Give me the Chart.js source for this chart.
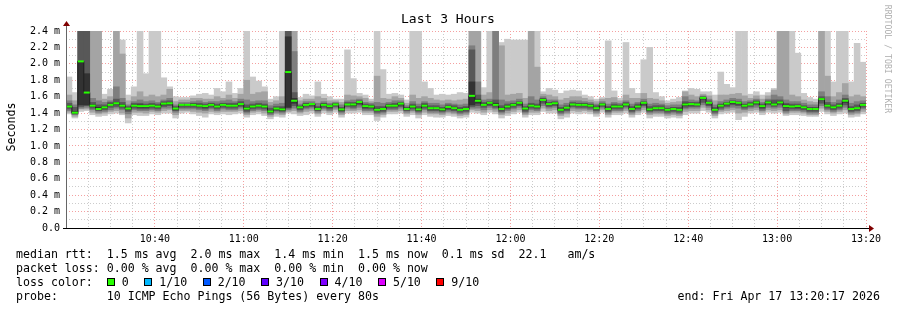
<!DOCTYPE html>
<html>
<head>
<meta charset="utf-8">
<title>Last 3 Hours</title>
<script src="https://cdn.jsdelivr.net/npm/chart.js@4.4.1/dist/chart.umd.min.js"></script>
<style>
  body { margin: 0; background: #fff; overflow: hidden; }
  #wrap { position: relative; width: 897px; height: 310px; font-family: "DejaVu Sans Mono", monospace; color: #000; }
  #wrap canvas { position: absolute; left: 0; top: 0; }
  .txt { position: absolute; white-space: pre; }
  #title { left: 0; width: 896px; top: 12px; line-height: 14px; font-size: 13px; text-align: center; }
  #ytitle { left: -39px; top: 120px; width: 100px; line-height: 14px; font-size: 11.6px; text-align: center; transform: rotate(-90deg); }
  #mark { left: 828px; top: 54px; width: 120px; line-height: 10px; font-size: 8.2px; text-align: center; color: #b0b0b0; transform: rotate(90deg); }
  #legend { left: 16px; top: 247px; line-height: 14px; font-size: 11.6px; }
  #end { right: 17px; top: 289px; line-height: 14px; font-size: 11.6px; }
  .sq { display: inline-block; width: 6px; height: 6px; border: 1px solid #000; margin-right: 7px; }
  .lbl { margin-right: 15.5px; }
</style>
</head>
<body>
<div id="wrap">
  <canvas id="chart" width="897" height="310"></canvas>
  <div class="txt" id="title">Last 3 Hours</div>
  <div class="txt" id="ytitle">Seconds</div>
  <div class="txt" id="mark">RRDTOOL / TOBI OETIKER</div>
  <div class="txt" id="legend"></div>
  <div class="txt" id="end">end: Fri Apr 17 13:20:17 2026</div>
</div>
<script>
// 10 pings every 80 s, window starts 10:20, 3 hours
const startHour = 10;
const startMinute = 20;
const stepSeconds = 80;
const windowMinutes = 180;

// median rtt per step (ms)
const median = [
  1.48, 1.405, 2.03, 1.65, 1.49, 1.45, 1.47, 1.50, 1.52, 1.49,
  1.455, 1.49, 1.485, 1.485, 1.49, 1.48, 1.515, 1.52, 1.455, 1.50,
  1.50, 1.50, 1.49, 1.485, 1.50, 1.48, 1.50, 1.49, 1.49, 1.51,
  1.455, 1.48, 1.49, 1.48, 1.42, 1.455, 1.445, 1.90, 1.55, 1.47,
  1.50, 1.51, 1.45, 1.50, 1.485, 1.505, 1.445, 1.505, 1.505, 1.535,
  1.485, 1.48, 1.44, 1.45, 1.49, 1.49, 1.515, 1.45, 1.48, 1.445,
  1.49, 1.46, 1.46, 1.445, 1.475, 1.46, 1.44, 1.45, 1.61, 1.55,
  1.50, 1.525, 1.50, 1.45, 1.48, 1.50, 1.525, 1.455, 1.49, 1.48,
  1.56, 1.51, 1.52, 1.44, 1.465, 1.505, 1.50, 1.50, 1.49, 1.46,
  1.505, 1.45, 1.48, 1.48, 1.505, 1.45, 1.48, 1.525, 1.445, 1.46,
  1.46, 1.44, 1.45, 1.44, 1.505, 1.51, 1.505, 1.585, 1.525, 1.44,
  1.49, 1.515, 1.535, 1.525, 1.49, 1.505, 1.53, 1.485, 1.53, 1.505,
  1.53, 1.485, 1.48, 1.485, 1.47, 1.45, 1.45, 1.57, 1.49, 1.47,
  1.49, 1.55, 1.45, 1.46, 1.50
];

// sorted pings per step, slowest first (values above 2.4 run off the top)
const ping10 = [
  1.84, 1.65, 2.6, 2.6, 2.6, 2.6, 1.63, 1.69, 2.6, 2.29,
  1.62, 1.72, 2.6, 1.88, 2.6, 2.6, 1.83, 1.72, 1.60, 1.59,
  1.59, 1.61, 1.63, 1.64, 1.62, 1.70, 1.66, 1.78, 1.64, 1.70,
  2.6, 1.84, 1.79, 1.72, 1.57, 1.60, 2.6, 2.6, 2.6, 1.59,
  1.63, 1.61, 1.78, 1.63, 1.60, 1.57, 1.57, 2.17, 1.82, 1.64,
  1.62, 1.57, 2.6, 1.93, 1.63, 1.64, 1.62, 1.56, 2.6, 2.6,
  1.78, 1.70, 1.62, 1.63, 1.62, 1.63, 1.65, 1.64, 2.6, 2.6,
  1.71, 2.6, 2.6, 2.26, 2.30, 2.29, 2.29, 2.29, 2.6, 2.6,
  1.66, 1.70, 1.68, 1.64, 1.67, 1.68, 1.67, 1.62, 1.60, 1.57,
  1.59, 2.28, 1.67, 1.58, 2.26, 1.70, 1.64, 2.05, 2.20, 1.65,
  1.60, 1.55, 1.57, 1.59, 1.67, 1.70, 1.69, 1.66, 1.66, 1.62,
  1.90, 1.75, 1.71, 2.6, 2.6, 1.63, 1.66, 1.62, 1.65, 1.70,
  2.6, 2.6, 2.6, 2.13, 1.64, 1.59, 1.57, 2.6, 2.42, 1.78,
  2.6, 2.6, 1.78, 2.25, 2.02
];
const ping9 = [
  1.62, 1.55, 2.6, 2.6, 2.6, 2.6, 1.57, 1.60, 2.6, 2.12,
  1.55, 1.60, 1.66, 1.60, 1.62, 1.60, 1.62, 1.69, 1.54, 1.56,
  1.56, 1.58, 1.58, 1.57, 1.57, 1.60, 1.58, 1.62, 1.58, 1.63,
  1.80, 1.63, 1.65, 1.66, 1.53, 1.55, 1.60, 2.6, 2.6, 1.55,
  1.57, 1.57, 1.60, 1.58, 1.55, 1.55, 1.53, 1.62, 1.61, 1.60,
  1.58, 1.54, 1.85, 1.58, 1.57, 1.60, 1.58, 1.52, 1.62, 1.58,
  1.60, 1.58, 1.56, 1.55, 1.56, 1.55, 1.56, 1.57, 2.6, 2.6,
  1.62, 1.65, 2.6, 2.22, 1.62, 1.63, 1.64, 1.58, 2.6, 1.96,
  1.63, 1.62, 1.60, 1.56, 1.58, 1.60, 1.60, 1.58, 1.56, 1.54,
  1.57, 1.58, 1.59, 1.55, 1.62, 1.58, 1.58, 1.64, 1.58, 1.57,
  1.55, 1.52, 1.53, 1.54, 1.66, 1.62, 1.60, 1.63, 1.61, 1.55,
  1.62, 1.62, 1.63, 1.64, 1.61, 1.58, 1.61, 1.57, 1.61, 1.68,
  2.6, 2.6, 1.62, 1.60, 1.56, 1.54, 1.53, 2.6, 1.85, 1.60,
  1.65, 1.76, 1.60, 1.62, 1.60
];
const ping8 = [
  1.55, 1.50, 2.6, 2.6, 1.58, 1.55, 1.53, 1.55, 1.72, 1.58,
  1.50, 1.54, 1.56, 1.54, 1.55, 1.53, 1.56, 1.58, 1.50, 1.53,
  1.53, 1.54, 1.55, 1.53, 1.54, 1.54, 1.55, 1.56, 1.54, 1.57,
  1.56, 1.54, 1.55, 1.55, 1.49, 1.51, 1.52, 2.6, 2.15, 1.51,
  1.54, 1.54, 1.52, 1.54, 1.52, 1.53, 1.50, 1.55, 1.56, 1.57,
  1.53, 1.52, 1.53, 1.52, 1.53, 1.55, 1.55, 1.49, 1.54, 1.51,
  1.54, 1.52, 1.52, 1.50, 1.52, 1.51, 1.50, 1.51, 2.22, 1.78,
  1.56, 1.57, 2.6, 1.56, 1.54, 1.55, 1.57, 1.51, 1.60, 1.56,
  1.60, 1.56, 1.56, 1.50, 1.52, 1.55, 1.55, 1.54, 1.53, 1.51,
  1.54, 1.51, 1.53, 1.52, 1.55, 1.51, 1.53, 1.57, 1.51, 1.52,
  1.51, 1.49, 1.50, 1.50, 1.60, 1.56, 1.55, 1.61, 1.57, 1.50,
  1.54, 1.56, 1.58, 1.57, 1.54, 1.55, 1.57, 1.53, 1.57, 1.62,
  1.60, 1.56, 1.54, 1.54, 1.52, 1.50, 1.50, 1.66, 1.60, 1.53,
  1.56, 1.62, 1.52, 1.54, 1.55
];
const ping7 = [
  1.52, 1.47, 2.6, 2.6, 1.53, 1.50, 1.50, 1.53, 1.57, 1.53,
  1.48, 1.52, 1.52, 1.51, 1.52, 1.51, 1.54, 1.55, 1.48, 1.51,
  1.51, 1.52, 1.52, 1.51, 1.52, 1.51, 1.52, 1.52, 1.52, 1.54,
  1.50, 1.51, 1.52, 1.51, 1.46, 1.48, 1.48, 2.6, 1.65, 1.49,
  1.52, 1.52, 1.48, 1.52, 1.50, 1.52, 1.47, 1.53, 1.53, 1.55,
  1.51, 1.50, 1.48, 1.48, 1.51, 1.52, 1.53, 1.47, 1.51, 1.48,
  1.52, 1.49, 1.49, 1.47, 1.50, 1.49, 1.47, 1.48, 2.17, 1.62,
  1.53, 1.54, 1.56, 1.49, 1.51, 1.52, 1.54, 1.48, 1.52, 1.51,
  1.58, 1.53, 1.54, 1.47, 1.49, 1.53, 1.52, 1.52, 1.51, 1.49,
  1.52, 1.48, 1.51, 1.50, 1.53, 1.48, 1.51, 1.54, 1.48, 1.49,
  1.49, 1.46, 1.47, 1.47, 1.54, 1.53, 1.53, 1.60, 1.55, 1.47,
  1.51, 1.53, 1.55, 1.54, 1.51, 1.53, 1.55, 1.51, 1.55, 1.56,
  1.56, 1.52, 1.51, 1.51, 1.49, 1.47, 1.47, 1.60, 1.53, 1.50,
  1.52, 1.58, 1.48, 1.50, 1.52
];
const ping6 = [
  1.49, 1.42, 2.03, 1.88, 1.50, 1.47, 1.48, 1.51, 1.53, 1.50,
  1.46, 1.50, 1.50, 1.49, 1.50, 1.49, 1.52, 1.53, 1.46, 1.50,
  1.50, 1.51, 1.50, 1.49, 1.51, 1.49, 1.51, 1.50, 1.50, 1.52,
  1.47, 1.49, 1.50, 1.49, 1.43, 1.46, 1.46, 2.33, 1.58, 1.48,
  1.51, 1.51, 1.46, 1.51, 1.49, 1.51, 1.45, 1.51, 1.51, 1.54,
  1.49, 1.49, 1.45, 1.46, 1.50, 1.50, 1.52, 1.46, 1.49, 1.45,
  1.50, 1.47, 1.47, 1.45, 1.48, 1.47, 1.45, 1.46, 1.78, 1.57,
  1.51, 1.53, 1.52, 1.46, 1.49, 1.51, 1.53, 1.46, 1.50, 1.49,
  1.57, 1.52, 1.53, 1.45, 1.47, 1.51, 1.51, 1.51, 1.50, 1.47,
  1.51, 1.46, 1.49, 1.49, 1.51, 1.46, 1.49, 1.53, 1.45, 1.47,
  1.47, 1.45, 1.46, 1.45, 1.52, 1.52, 1.51, 1.59, 1.53, 1.45,
  1.50, 1.52, 1.54, 1.53, 1.50, 1.51, 1.54, 1.49, 1.54, 1.52,
  1.54, 1.50, 1.49, 1.49, 1.48, 1.46, 1.46, 1.58, 1.50, 1.48,
  1.50, 1.56, 1.46, 1.47, 1.51
];
const ping5 = [
  1.47, 1.40, 1.50, 1.50, 1.48, 1.44, 1.46, 1.49, 1.51, 1.48,
  1.44, 1.48, 1.47, 1.47, 1.48, 1.47, 1.50, 1.51, 1.44, 1.49,
  1.49, 1.49, 1.48, 1.47, 1.49, 1.47, 1.49, 1.48, 1.48, 1.50,
  1.44, 1.47, 1.48, 1.47, 1.41, 1.44, 1.43, 1.47, 1.52, 1.46,
  1.49, 1.50, 1.44, 1.49, 1.47, 1.50, 1.43, 1.50, 1.49, 1.52,
  1.47, 1.47, 1.43, 1.44, 1.48, 1.48, 1.50, 1.44, 1.47, 1.43,
  1.48, 1.45, 1.45, 1.43, 1.46, 1.45, 1.43, 1.44, 1.50, 1.52,
  1.49, 1.51, 1.49, 1.44, 1.47, 1.49, 1.51, 1.44, 1.48, 1.47,
  1.55, 1.50, 1.51, 1.43, 1.45, 1.50, 1.49, 1.49, 1.48, 1.45,
  1.50, 1.44, 1.47, 1.47, 1.50, 1.44, 1.47, 1.51, 1.43, 1.45,
  1.45, 1.43, 1.44, 1.43, 1.49, 1.50, 1.50, 1.57, 1.51, 1.43,
  1.48, 1.50, 1.52, 1.51, 1.48, 1.50, 1.52, 1.47, 1.52, 1.50,
  1.52, 1.47, 1.47, 1.47, 1.46, 1.44, 1.44, 1.56, 1.48, 1.46,
  1.48, 1.53, 1.44, 1.45, 1.49
];
const ping4 = [
  1.45, 1.39, 1.48, 1.49, 1.46, 1.43, 1.44, 1.47, 1.48, 1.46,
  1.42, 1.46, 1.45, 1.45, 1.46, 1.45, 1.48, 1.49, 1.43, 1.47,
  1.47, 1.47, 1.46, 1.45, 1.47, 1.45, 1.47, 1.46, 1.46, 1.48,
  1.42, 1.45, 1.46, 1.45, 1.40, 1.43, 1.42, 1.46, 1.49, 1.44,
  1.47, 1.48, 1.43, 1.47, 1.45, 1.48, 1.42, 1.48, 1.47, 1.50,
  1.45, 1.45, 1.41, 1.42, 1.46, 1.46, 1.48, 1.43, 1.45, 1.42,
  1.46, 1.43, 1.43, 1.42, 1.44, 1.43, 1.41, 1.42, 1.48, 1.49,
  1.47, 1.49, 1.47, 1.42, 1.45, 1.47, 1.49, 1.42, 1.46, 1.45,
  1.52, 1.48, 1.49, 1.41, 1.43, 1.48, 1.47, 1.47, 1.46, 1.43,
  1.48, 1.42, 1.45, 1.45, 1.48, 1.42, 1.45, 1.49, 1.42, 1.43,
  1.43, 1.41, 1.42, 1.41, 1.47, 1.48, 1.48, 1.53, 1.49, 1.41,
  1.46, 1.48, 1.50, 1.49, 1.46, 1.48, 1.50, 1.45, 1.50, 1.48,
  1.50, 1.43, 1.45, 1.45, 1.44, 1.42, 1.42, 1.52, 1.46, 1.44,
  1.46, 1.50, 1.42, 1.43, 1.47
];
const ping3 = [
  1.43, 1.38, 1.46, 1.47, 1.44, 1.41, 1.42, 1.44, 1.46, 1.44,
  1.39, 1.44, 1.43, 1.43, 1.44, 1.43, 1.46, 1.46, 1.41, 1.45,
  1.45, 1.45, 1.44, 1.43, 1.45, 1.43, 1.45, 1.44, 1.44, 1.46,
  1.40, 1.43, 1.44, 1.43, 1.38, 1.41, 1.40, 1.44, 1.46, 1.42,
  1.45, 1.46, 1.41, 1.45, 1.43, 1.46, 1.40, 1.46, 1.45, 1.47,
  1.43, 1.43, 1.39, 1.40, 1.44, 1.44, 1.46, 1.41, 1.43, 1.40,
  1.44, 1.41, 1.41, 1.40, 1.42, 1.41, 1.39, 1.40, 1.46, 1.46,
  1.44, 1.47, 1.45, 1.40, 1.43, 1.45, 1.47, 1.40, 1.44, 1.43,
  1.49, 1.46, 1.47, 1.39, 1.41, 1.46, 1.45, 1.45, 1.44, 1.41,
  1.46, 1.40, 1.43, 1.43, 1.46, 1.40, 1.43, 1.47, 1.40, 1.41,
  1.41, 1.39, 1.40, 1.39, 1.45, 1.46, 1.46, 1.50, 1.47, 1.39,
  1.44, 1.46, 1.47, 1.46, 1.44, 1.46, 1.47, 1.43, 1.47, 1.46,
  1.47, 1.41, 1.43, 1.43, 1.42, 1.40, 1.40, 1.49, 1.44, 1.42,
  1.44, 1.47, 1.40, 1.41, 1.45
];
const ping2 = [
  1.41, 1.36, 1.45, 1.45, 1.41, 1.39, 1.40, 1.42, 1.43, 1.40,
  1.34, 1.41, 1.41, 1.40, 1.42, 1.41, 1.43, 1.44, 1.38, 1.43,
  1.43, 1.42, 1.41, 1.40, 1.42, 1.41, 1.42, 1.42, 1.42, 1.43,
  1.38, 1.41, 1.42, 1.40, 1.36, 1.39, 1.38, 1.42, 1.43, 1.40,
  1.42, 1.43, 1.39, 1.43, 1.41, 1.44, 1.38, 1.43, 1.43, 1.44,
  1.41, 1.41, 1.36, 1.38, 1.42, 1.42, 1.43, 1.39, 1.41, 1.38,
  1.41, 1.39, 1.39, 1.38, 1.40, 1.39, 1.37, 1.38, 1.44, 1.43,
  1.41, 1.44, 1.42, 1.38, 1.40, 1.42, 1.44, 1.38, 1.41, 1.41,
  1.46, 1.43, 1.44, 1.37, 1.39, 1.43, 1.42, 1.43, 1.42, 1.39,
  1.44, 1.38, 1.41, 1.41, 1.43, 1.38, 1.41, 1.44, 1.38, 1.39,
  1.39, 1.37, 1.38, 1.37, 1.42, 1.43, 1.43, 1.47, 1.44, 1.37,
  1.42, 1.43, 1.44, 1.40, 1.41, 1.43, 1.44, 1.41, 1.44, 1.43,
  1.44, 1.39, 1.41, 1.41, 1.40, 1.38, 1.38, 1.46, 1.42, 1.40,
  1.42, 1.44, 1.38, 1.39, 1.42
];
const ping1 = [
  1.39, 1.34, 1.42, 1.43, 1.38, 1.36, 1.37, 1.39, 1.40, 1.38,
  1.28, 1.38, 1.37, 1.37, 1.39, 1.38, 1.40, 1.40, 1.34, 1.40,
  1.41, 1.39, 1.37, 1.35, 1.39, 1.38, 1.39, 1.38, 1.39, 1.40,
  1.35, 1.38, 1.39, 1.37, 1.33, 1.36, 1.35, 1.40, 1.39, 1.37,
  1.38, 1.40, 1.36, 1.40, 1.38, 1.41, 1.35, 1.40, 1.40, 1.41,
  1.38, 1.38, 1.31, 1.35, 1.39, 1.39, 1.40, 1.36, 1.38, 1.34,
  1.38, 1.36, 1.35, 1.35, 1.37, 1.36, 1.34, 1.35, 1.41, 1.40,
  1.38, 1.41, 1.39, 1.34, 1.37, 1.39, 1.41, 1.35, 1.38, 1.38,
  1.42, 1.40, 1.40, 1.33, 1.35, 1.40, 1.39, 1.40, 1.39, 1.36,
  1.41, 1.35, 1.38, 1.38, 1.40, 1.35, 1.38, 1.41, 1.34, 1.36,
  1.36, 1.34, 1.35, 1.34, 1.38, 1.40, 1.40, 1.43, 1.41, 1.34,
  1.39, 1.40, 1.41, 1.32, 1.36, 1.40, 1.41, 1.38, 1.41, 1.40,
  1.41, 1.37, 1.38, 1.38, 1.37, 1.36, 1.36, 1.42, 1.39, 1.37,
  1.39, 1.40, 1.35, 1.36, 1.39
];

// legend texts
const statsLines = [
  'median rtt:  1.5 ms avg  2.0 ms max  1.4 ms min  1.5 ms now  0.1 ms sd  22.1   am/s',
  'packet loss: 0.00 % avg  0.00 % max  0.00 % min  0.00 % now'
];
const lossLabels = ['0', '1/10', '2/10', '3/10', '4/10', '5/10', '9/10'];
const lossColors = ['#26ff00', '#00b8ff', '#0059ff', '#5e00ff', '#7e00ff', '#dd00ff', '#ff0000'];
const probeText = 'probe:       10 ICMP Echo Pings (56 Bytes) every 80s';

// smoke shades, outermost pair first
const smokeColors = ['#cacaca', '#a4a4a4', '#7e7e7e', '#585858', '#323232'];
const lowPings = [ping1, ping2, ping3, ping4, ping5];
const highPings = [ping10, ping9, ping8, ping7, ping6];

// centre of each 80 s step, in minutes from the window start
const stepMid = median.map((_, i) => (i + 0.5) * stepSeconds / 60);

const mono = '"DejaVu Sans Mono", monospace';
const majorGrid = '#f4a0a0';
const minorGrid = '#cccccc';

// legend block under the plot
const legend = document.getElementById('legend');
let html = statsLines.join('\n') + '\nloss color:  ';
lossLabels.forEach((l, i) => {
    html += `<span class="sq" style="background:${lossColors[i]}"></span><span class="lbl">${l}</span>`;
});
html += '\n' + probeText;
legend.innerHTML = html;

function timeLabel(min) {
    const total = startHour * 60 + startMinute + min;
    const h = Math.floor(total / 60) % 24;
    const m = total % 60;
    return String(h).padStart(2, '0') + ':' + String(m).padStart(2, '0');
}

// axis lines with the little rrdtool arrows
const axisArrows = {
    id: 'axisArrows',
    afterDraw(chart) {
        const { ctx, chartArea: a } = chart;
        ctx.save();
        ctx.lineWidth = 1;
        ctx.strokeStyle = '#666';
        ctx.beginPath();
        ctx.moveTo(a.left + 0.5, a.bottom);
        ctx.lineTo(a.left + 0.5, a.top - 6);
        ctx.stroke();
        ctx.strokeStyle = '#000';
        ctx.beginPath();
        ctx.moveTo(a.left - 3, a.bottom + 0.5);
        ctx.lineTo(a.right + 4, a.bottom + 0.5);
        ctx.stroke();
        ctx.fillStyle = '#800000';
        ctx.beginPath();
        ctx.moveTo(a.right + 3, a.bottom - 3);
        ctx.lineTo(a.right + 8, a.bottom + 0.5);
        ctx.lineTo(a.right + 3, a.bottom + 4);
        ctx.closePath();
        ctx.fill();
        ctx.beginPath();
        ctx.moveTo(a.left - 3, a.top - 5);
        ctx.lineTo(a.left + 0.5, a.top - 10);
        ctx.lineTo(a.left + 4, a.top - 5);
        ctx.closePath();
        ctx.fill();
        ctx.restore();
    }
};

const smokeSets = smokeColors.map((c, k) => ({
    type: 'bar',
    data: stepMid.map((t, i) => ({ x: t, y: [lowPings[k][i], highPings[k][i]] })),
    backgroundColor: c,
    borderWidth: 0,
    grouped: false,
    barPercentage: 1,
    categoryPercentage: 1,
    order: 10 - k,
    clip: 0
}));

const medianSet = {
    type: 'line',
    data: stepMid.map((t, i) => ({ x: t, y: median[i] })),
    stepped: 'middle',
    borderColor: '#202020',
    borderWidth: 1,
    fill: false,
    pointStyle: 'line',
    pointRadius: 3,
    pointBorderColor: lossColors[0],
    pointBackgroundColor: lossColors[0],
    pointBorderWidth: 2,
    order: 0,
    clip: 0
};

new Chart(document.getElementById('chart'), {
    type: 'bar',
    data: { datasets: [...smokeSets, medianSet] },
    options: {
        responsive: false,
        animation: false,
        events: [],
        layout: { padding: { left: 0, right: 31, top: 31, bottom: 0 } },
        plugins: {
            legend: { display: false },
            title: { display: false },
            tooltip: { enabled: false }
        },
        scales: {
            x: {
                type: 'linear',
                min: 0,
                max: windowMinutes,
                offset: false,
                z: 1,
                grid: {
                    offset: false,
                    drawTicks: false,
                    lineWidth: 1,
                    color: ctx => (ctx.tick && ctx.tick.value % 20 === 0) ? majorGrid : minorGrid
                },
                border: { display: false, dash: [1, 2] },
                ticks: {
                    stepSize: 5,
                    autoSkip: false,
                    maxRotation: 0,
                    padding: 5,
                    color: '#000',
                    font: { family: mono, size: 10 },
                    callback: v => (v % 20 === 0 && v > 0) ? timeLabel(v) : ''
                },
                afterFit: s => { s.height = 82; }
            },
            y: {
                min: 0,
                max: 2.4,
                z: 1,
                grid: {
                    drawTicks: false,
                    lineWidth: 1,
                    color: ctx => (ctx.tick && Math.round(ctx.tick.value * 10) % 2 === 0) ? majorGrid : minorGrid
                },
                border: { display: false, dash: [1, 2] },
                ticks: {
                    stepSize: 0.1,
                    autoSkip: false,
                    padding: 6,
                    color: '#000',
                    font: { family: mono, size: 10 },
                    callback: v => {
                        const t = Math.round(v * 10);
                        if (t % 2 !== 0) return '';
                        return t === 0 ? '0.0' : (t / 10).toFixed(1) + ' m';
                    }
                },
                afterFit: s => { s.width = 66; }
            }
        }
    },
    plugins: [axisArrows]
});
</script>
</body>
</html>
